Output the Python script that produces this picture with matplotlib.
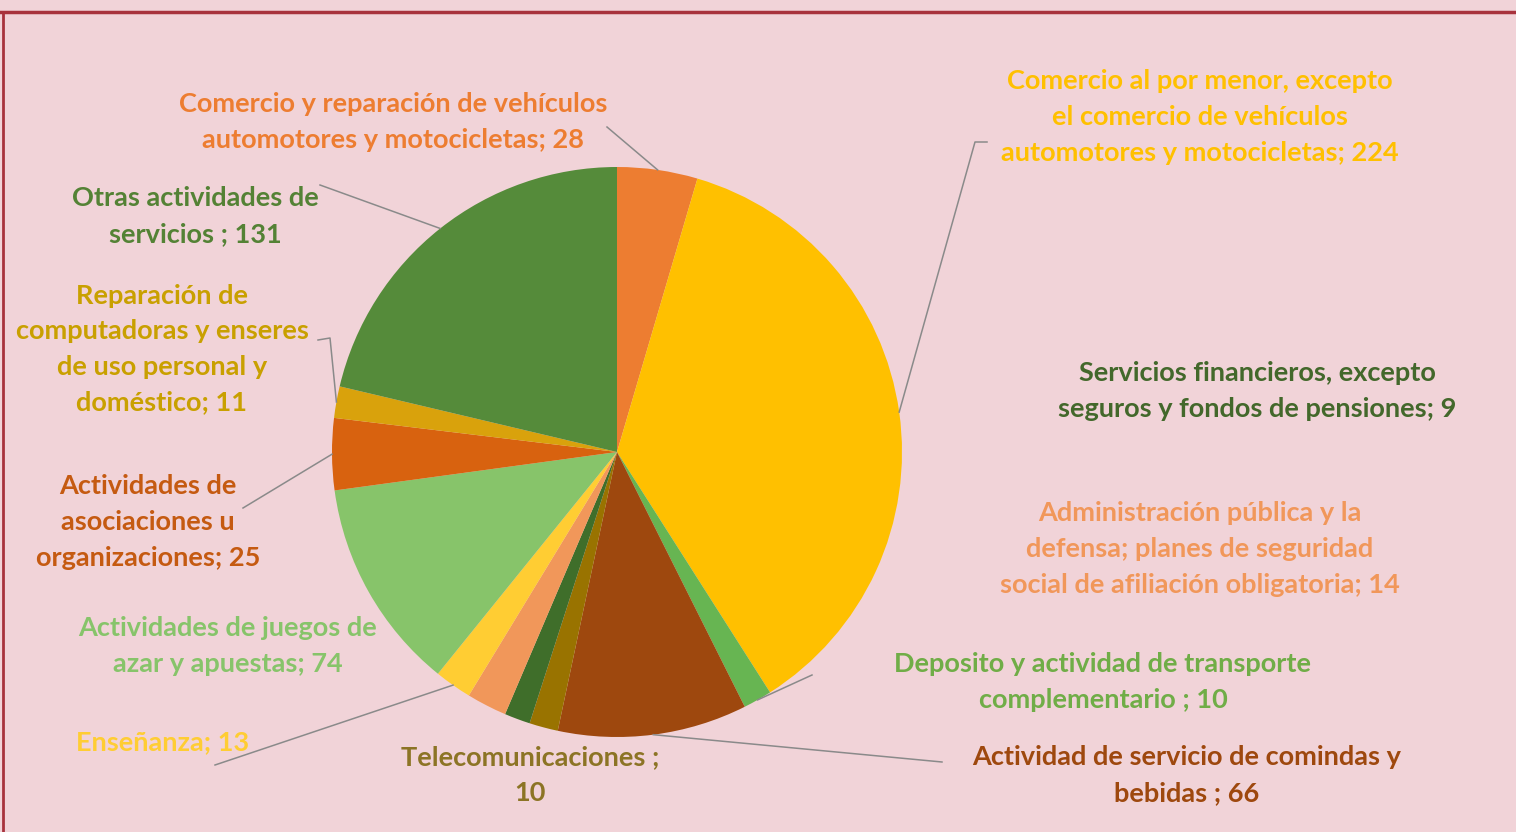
import numpy as np
import matplotlib.pyplot as plt

W, H = 1516, 832

# datos
sectores = [
    "Comercio y reparación de vehículos\nautomotores y motocicletas",
    "Comercio al por menor, excepto\nel comercio de vehículos\nautomotores y motocicletas",
    "Deposito y actividad de transporte\ncomplementario ",
    "Actividad de servicio de comindas y\nbebidas ",
    "Telecomunicaciones ;\n",
    "Servicios financieros, excepto\nseguros y fondos de pensiones",
    "Administración pública y la\ndefensa; planes de seguridad\nsocial de afiliación obligatoria",
    "Enseñanza",
    "Actividades de juegos de\nazar y apuestas",
    "Actividades de\nasociaciones u\norganizaciones",
    "Reparación de\ncomputadoras y enseres\nde uso personal y\ndoméstico",
    "Otras actividades de\nservicios ",
]
valores = [28, 224, 10, 66, 10, 9, 14, 13, 74, 25, 11, 131]
colores = ["#ED7D31", "#FFC000", "#67B552", "#9E480E", "#997300", "#3F6E2A",
           "#F1975A", "#FFCD33", "#87C46A", "#D8620F", "#D9A20C", "#558B3A"]
colores_txt = ["#ED7D31", "#FFC000", "#70AD47", "#9E480E", "#8C7425", "#43682B",
               "#F1975A", "#FFCD33", "#87C46A", "#C55A11", "#C9A000", "#548235"]

# posiciones de etiquetas (pixeles) y punto de la linea guia del lado del texto
pos_txt = [(393, 122), (1200, 117), (1103, 682), (1187, 775), (530, 775),
           (1257, 391), (1200, 549), (163, 742), (228, 646), (148, 522),
           (162, 349), (195, 216)]
guia = [[(607, 127)], [(987, 142), (975, 142)], [(812, 675)], [(942, 762)], None,
        None, None, [(215, 765)], None, [(243, 508)], [(318, 340), (330, 338)],
        [(320, 185)]]

cx, cy, r = 617, 452, 285


def P(x, y):
    return x, H - y


plt.rcParams['font.family'] = ['Lato', 'DejaVu Sans']
fig = plt.figure(figsize=(W / 100, H / 100), dpi=100, facecolor="#F1D3D8")
ax = fig.add_axes([0, 0, 1, 1])
ax.set_facecolor("#F1D3D8")

wedges, _ = ax.pie(valores, colors=colores, startangle=90, counterclock=False,
                   center=P(cx, cy), radius=r, wedgeprops=dict(linewidth=0))

for i, w in enumerate(wedges):
    if sectores[i].endswith("\n"):
        txt = sectores[i] + str(valores[i])
    else:
        txt = sectores[i] + "; " + str(valores[i])
    ax.text(*P(*pos_txt[i]), txt, ha="center", va="center", fontsize=19.5,
            fontweight="bold", color=colores_txt[i], linespacing=1.58)
    if guia[i] is not None:
        mid = np.deg2rad((w.theta1 + w.theta2) / 2)
        ancla = (cx + r * np.cos(mid), cy - r * np.sin(mid))
        pts = guia[i] + [ancla]
        ax.plot([p[0] for p in pts], [H - p[1] for p in pts], color="#8A8A8A", lw=1.1)

# marco rojo
ax.plot([0, W], [H - 12, H - 12], color="#A8323C", lw=2.5)
ax.plot([3, 3], [0, H - 12], color="#A8323C", lw=2)

ax.set_xlim(0, W)
ax.set_ylim(0, H)
ax.set_aspect("auto")
ax.axis("off")

fig.savefig("out.png", dpi=100, facecolor=fig.get_facecolor())
